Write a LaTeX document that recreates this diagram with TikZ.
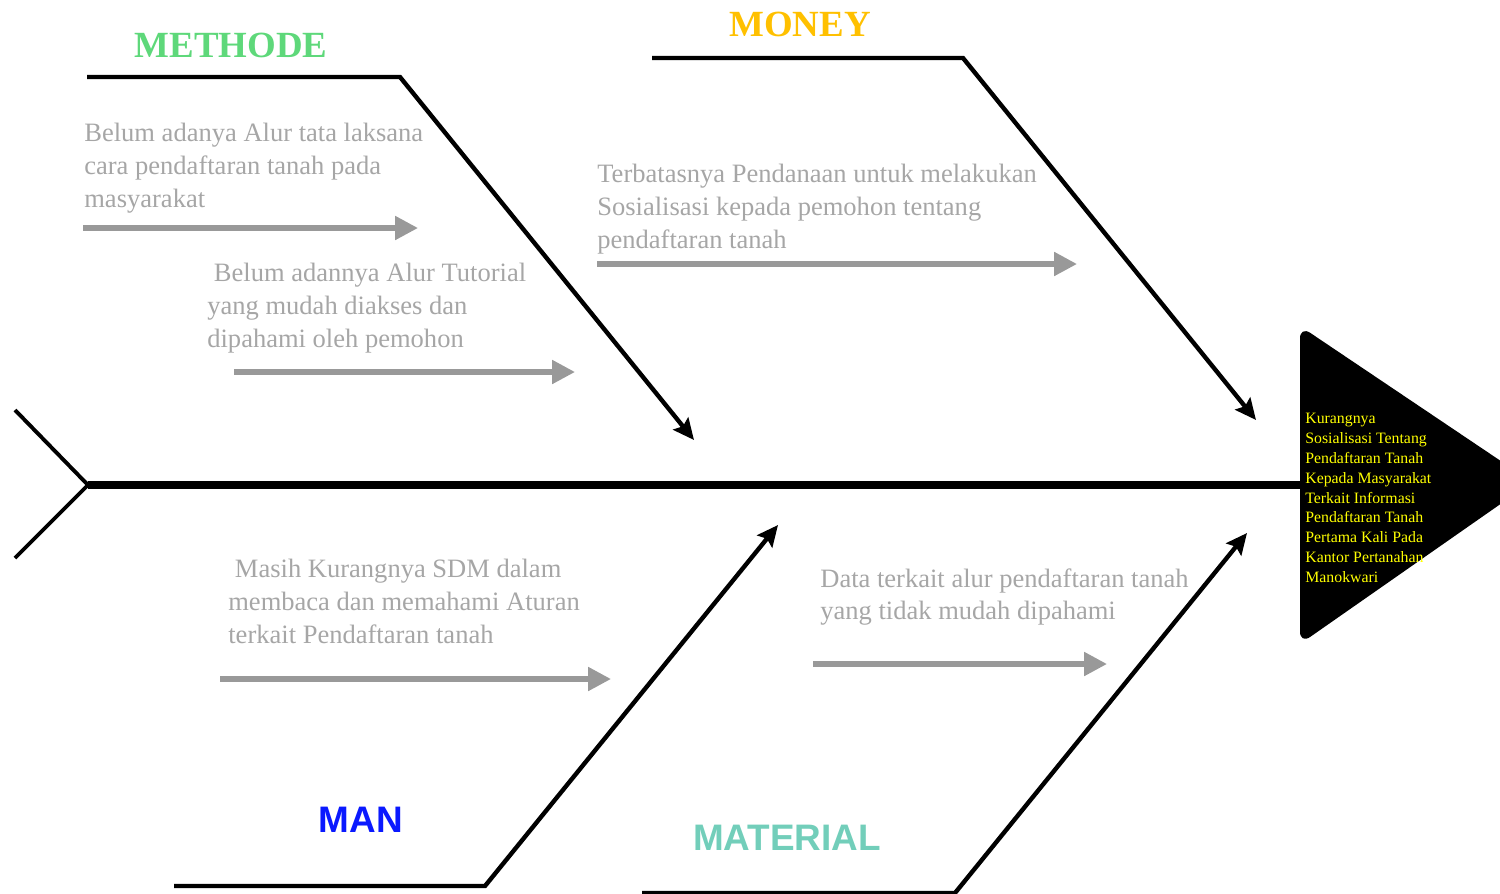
\documentclass[tikz,border=0pt]{standalone}
\usepackage{fontspec}
\setmainfont{Liberation Serif}
\newfontfamily\labelsans{Liberation Sans}
\usetikzlibrary{arrows.meta}
\definecolor{methodegreen}{RGB}{94,216,122}
\definecolor{moneygold}{RGB}{255,192,0}
\definecolor{manblue}{RGB}{10,25,255}
\definecolor{materialteal}{RGB}{114,206,186}
\definecolor{causetext}{RGB}{166,166,166}
\definecolor{causearrow}{RGB}{153,153,153}
\definecolor{headtext}{RGB}{255,255,0}
\begin{document}
\begin{tikzpicture}[x=0.02cm,y=-0.02cm,
    spine/.style={line width=4pt},
    tail/.style={line width=2.2pt},
    bone/.style={line width=2.5pt,-{Stealth[length=12pt,width=11pt,inset=2pt]}},
    subarrow/.style={draw=causearrow,line width=3pt,-{Triangle[length=13pt,width=13pt]}},
    cause/.style={anchor=north west,inner sep=0pt,align=left,text=causetext,
        font=\fontsize{15.1}{18.7}\selectfont},
    serifcat/.style={font=\fontsize{21}{25}\selectfont\bfseries},
    sanscat/.style={font=\fontsize{21}{25}\selectfont\labelsans\bfseries}]
    \useasboundingbox (0,0) rectangle (1500,893);

    % spine and tail
    \coordinate (tailtop) at (15,410);
    \coordinate (tailend) at (88,485);
    \coordinate (tailbot) at (15,558);
    \coordinate (headbase) at (1300,485);
    \draw[spine] (tailend) -- (headbase);
    \draw[tail] (tailtop) -- (tailend) -- (tailbot);

    % head
    \coordinate (headtop) at (1300,326);
    \coordinate (headtip) at (1532,482);
    \coordinate (headbot) at (1300,644);
    \fill[rounded corners=7pt] (headbase) -- (headtop) -- (headtip) -- (headbot) -- cycle;
    \node (problem) [anchor=north west,inner sep=0pt,align=left,text=headtext,
        font=\fontsize{9}{11.3}\selectfont] at (1305,413)
        {Kurangnya\\Sosialisasi Tentang\\Pendaftaran Tanah\\Kepada Masyarakat\\
         Terkait Informasi\\Pendaftaran Tanah\\Pertama Kali Pada\\Kantor Pertanahan\\Manokwari};

    % bones
    \coordinate (M0) at (87,77);
    \coordinate (M1) at (400,77);
    \coordinate (M2) at (694,440);
    \draw[bone] (M0) -- (M1) -- (M2);

    \coordinate (Y0) at (652,58);
    \coordinate (Y1) at (963,58);
    \coordinate (Y2) at (1256,420);
    \draw[bone] (Y0) -- (Y1) -- (Y2);

    \coordinate (N0) at (174,886);
    \coordinate (N1) at (485,886);
    \coordinate (N2) at (778,525);
    \draw[bone] (N0) -- (N1) -- (N2);

    \coordinate (T0) at (642,893);
    \coordinate (T1) at (955,893);
    \coordinate (T2) at (1247,533);
    \draw[bone] (T0) -- (T1) -- (T2);

    % categories
    \node (methode) [serifcat,text=methodegreen] at (231,45) {METHODE};
    \node (money) [serifcat,text=moneygold] at (800,24) {MONEY};
    \node (man) [sanscat,text=manblue] at (361,820) {MAN};
    \node (material) [sanscat,text=materialteal] at (787,838) {MATERIAL};

    % causes
    \node (c1) [cause] at (84,123) {Belum adanya Alur tata laksana\\cara pendaftaran tanah pada\\masyarakat};
    \coordinate (c1a) at (83,228);
    \coordinate (c1b) at (418,228);
    \draw[subarrow] (c1a) -- (c1b);

    \node (c2) [cause] at (207,263) {\ Belum adannya Alur Tutorial\\yang mudah diakses dan\\dipahami oleh pemohon};
    \coordinate (c2a) at (234,372);
    \coordinate (c2b) at (575,372);
    \draw[subarrow] (c2a) -- (c2b);

    \node (c3) [cause] at (597,164) {Terbatasnya Pendanaan untuk melakukan\\Sosialisasi kepada pemohon tentang\\pendaftaran tanah};
    \coordinate (c3a) at (597,264);
    \coordinate (c3b) at (1077,264);
    \draw[subarrow] (c3a) -- (c3b);

    \node (c4) [cause] at (228,559) {\ Masih Kurangnya SDM dalam\\membaca dan memahami Aturan\\terkait Pendaftaran tanah};
    \coordinate (c4a) at (220,679);
    \coordinate (c4b) at (611,679);
    \draw[subarrow] (c4a) -- (c4b);

    \node (c5) [cause] at (820,568) {Data terkait alur pendaftaran tanah\\yang tidak mudah dipahami};
    \coordinate (c5a) at (813,664);
    \coordinate (c5b) at (1107,664);
    \draw[subarrow] (c5a) -- (c5b);
\end{tikzpicture}
\end{document}
